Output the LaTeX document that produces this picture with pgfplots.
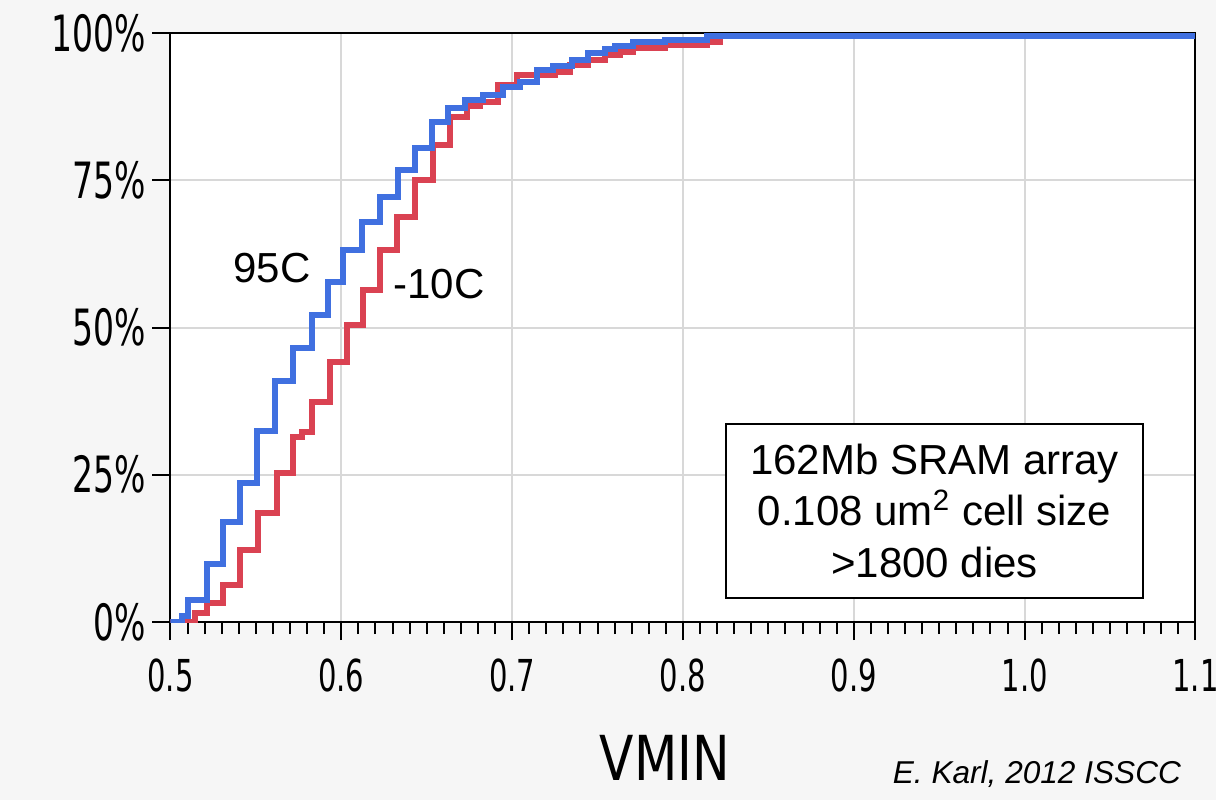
\documentclass[border=0pt]{standalone}
\usepackage{fontspec}
\setmainfont{Liberation Sans}
\newfontfamily\tickfont[FakeStretch=0.66]{DejaVu Sans}
\newfontfamily\vminfont[FakeStretch=0.81]{DejaVu Sans}
\usepackage{pgfplots}
\pgfplotsset{compat=1.18}
\definecolor{bg}{HTML}{F6F6F6}
\definecolor{cblue}{RGB}{64,112,224}
\definecolor{cred}{RGB}{218,66,82}
\definecolor{gridc}{HTML}{D8D8D8}

\pgfplotstableread{
x y
0.5000 0.0
0.5066 1.0
0.5102 3.7
0.5212 9.8
0.5307 17.0
0.5407 23.6
0.5506 32.4
0.5612 40.9
0.5717 46.5
0.5828 52.1
0.5922 57.7
0.6010 63.2
0.6121 67.9
0.6227 72.2
0.6332 76.7
0.6432 80.5
0.6531 84.9
0.6625 87.3
0.6724 88.6
0.6830 89.5
0.6947 90.8
0.7046 91.7
0.7146 93.7
0.7239 94.4
0.7351 95.4
0.7444 96.6
0.7544 97.3
0.7603 97.8
0.7708 98.5
0.7895 98.8
0.8141 99.5
1.1000 99.5
}\blue

\pgfplotstableread{
x y
0.5000 0.0
0.5143 1.5
0.5213 3.2
0.5307 6.3
0.5407 12.2
0.5512 18.5
0.5623 25.3
0.5717 31.4
0.5770 32.3
0.5828 37.4
0.5934 44.1
0.6033 50.4
0.6127 56.4
0.6227 63.2
0.6326 68.8
0.6432 75.0
0.6537 81.0
0.6636 85.7
0.6736 87.6
0.6812 88.3
0.6917 91.2
0.7029 92.9
0.7251 93.4
0.7339 94.6
0.7444 95.4
0.7544 96.3
0.7632 96.8
0.7708 97.5
0.7895 98.0
0.8141 98.5
0.8217 99.5
0.8240 99.5
}\red

\begin{document}
\begin{tikzpicture}
\clip (-85.25pt,-89pt) rectangle (522.75pt,311pt);
\fill[bg] (-85.25pt,-89pt) rectangle (522.75pt,311pt);
\begin{axis}[
  at={(0,0)}, anchor=south west,
  scale only axis, width=512.5pt, height=294.5pt,
  xmin=0.5, xmax=1.1, ymin=0, ymax=100,
  axis background/.style={fill=white},
  axis line style={black, line width=1pt},
  xtick={0.5,0.6,0.7,0.8,0.9,1.0,1.1},
  xticklabels={0.5,0.6,0.7,0.8,0.9,1.0,1.1},
  minor x tick num=9,
  ytick={0,25,50,75,100},
  yticklabels={0\%,25\%,50\%,75\%,100\%},
  tick align=outside, tick pos=left,
  major tick length=9pt, minor tick length=6pt,
  every tick/.style={black, line width=1pt},
  grid=major, major grid style={gridc, line width=1pt},
  xticklabel style={font=\tickfont\fontsize{22}{26}\selectfont, yshift=-6pt},
  yticklabel style={font=\tickfont\fontsize{25}{30}\selectfont},
]
\addplot[const plot mark left, cred, line width=2.8pt] table[x=x,y=y] {\red};
\addplot[const plot mark left, cblue, line width=2.8pt] table[x=x,y=y] {\blue};
\node[font=\fontsize{21}{25}\selectfont] at (axis cs:0.5594,60.1) {95C};
\node[font=\fontsize{21}{25}\selectfont] at (axis cs:0.6572,57.4) {-10C};
\node[draw=black, line width=0.8pt, fill=white, align=center, minimum width=208.5pt, minimum height=87pt, inner sep=0pt, font=\fontsize{21}{25.7}\selectfont] at (axis cs:0.9473,18.85) {162Mb SRAM array\\0.108 um\textsuperscript{2} cell size\\>1800 dies};
\end{axis}
\node[anchor=base, font=\vminfont\fontsize{31}{36}\selectfont] at (247.25pt,-79pt) {VMIN};
\node[anchor=base east, font=\itshape\fontsize{15.8}{19}\selectfont] at (508.75pt,-80.5pt) {E. Karl, 2012 ISSCC};
\end{tikzpicture}
\end{document}
